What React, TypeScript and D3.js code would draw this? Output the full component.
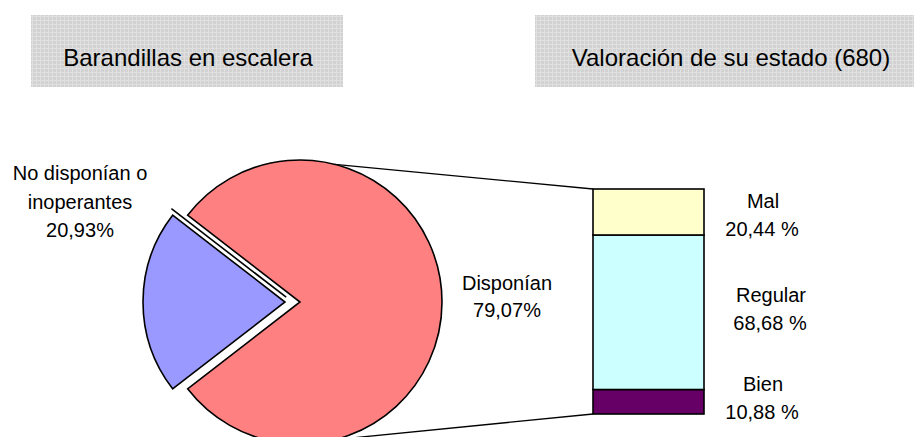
import React from "react";
import * as d3 from "d3";

// pie: share of stairs with handrails
const pieLabels = ["Disponían", "No disponían o inoperantes"];
const pieValues = [79.07, 20.93];
const pieColors = ["#FF8080", "#9999FF"];

// bar: condition of the handrails (680)
const barLabels = ["Bien", "Regular", "Mal"];
const barValues = [10.88, 68.68, 20.44];
const barColors = ["#660066", "#CCFFFF", "#FFFFCC"];

const titles = ["Barandillas en escalera", "Valoración de su estado (680)"];

const W = 914;
const H = 437;
const font = "'Liberation Sans', Arial, sans-serif";

const cx = 300;
const cy = 302;
const R = 142;
const explode = 15;
const connAngle = (14.2 * Math.PI) / 180;

const fmt = (v: number) => v.toFixed(2).replace(".", ",");

export default function App() {
  // small slice centred on the west side of the pie
  const blueShare = pieValues[1] / d3.sum(pieValues);
  const start = 2 * Math.PI * (0.75 - (1 - blueShare / 2));
  const pie = d3
    .pie<number>()
    .sort(null)
    .startAngle(start)
    .endAngle(start + 2 * Math.PI)(pieValues);
  const arc = d3.arc<d3.PieArcDatum<number>>().innerRadius(0).outerRadius(R);

  const bx = 593;
  const bw = 111;
  const y = d3.scaleLinear().domain([0, d3.sum(barValues)]).range([414, 189]);
  const stacked = barValues.map((v, i) => {
    const base = d3.sum(barValues.slice(0, i));
    return { v, i, y0: y(base), y1: y(base + v) };
  });
  const labelDy = [-11, -10, -4];

  // extra shadow line along the upper edge of the exploded slice
  const b = pie[1];
  const mid = (b.startAngle + b.endAngle) / 2;
  const ox = explode * Math.sin(mid);
  const oy = -explode * Math.cos(mid);
  const edgeA = b.endAngle;
  const ex = Math.sin(edgeA);
  const ey = -Math.cos(edgeA);
  const px = -ey * 4.5;
  const py = ex * 4.5;

  const topPt = [cx + R * Math.sin(connAngle), cy - R * Math.cos(connAngle)];
  const botPt = [cx + R * Math.sin(Math.PI - connAngle), cy - R * Math.cos(Math.PI - connAngle)];

  return (
    <svg
      width={W}
      height={H}
      style={{ position: "absolute", left: 0, top: 0, background: "#fff" }}
      fontFamily={font}
    >
      <defs>
        <pattern id="dots" width={4} height={4} patternUnits="userSpaceOnUse">
          <rect width={4} height={4} fill="#d2d2d2" />
          <rect width={4} height={1} fill="#e0e0e0" />
          <rect width={1} height={4} fill="#e0e0e0" />
        </pattern>
      </defs>

      <rect x={31} y={15} width={312} height={72} fill="url(#dots)" />
      <rect x={535} y={15} width={392} height={72} fill="url(#dots)" />
      <text x={188} y={66} fontSize={24} textAnchor="middle" fill="#000">
        {titles[0]}
      </text>
      <text x={731} y={66} fontSize={24} textAnchor="middle" fill="#000">
        {titles[1]}
      </text>

      {/* connectors */}
      <line x1={topPt[0]} y1={topPt[1]} x2={bx} y2={y(d3.sum(barValues))} stroke="#000" strokeWidth={1.3} />
      <line x1={botPt[0]} y1={botPt[1]} x2={bx} y2={y(0)} stroke="#000" strokeWidth={1.3} />

      {/* pie */}
      <g transform={`translate(${cx},${cy})`}>
        {pie.map((d, i) => {
          const m = (d.startAngle + d.endAngle) / 2;
          const off = i === 1 ? explode : 0;
          return (
            <path
              key={i}
              d={arc(d) || ""}
              transform={`translate(${off * Math.sin(m)},${-off * Math.cos(m)})`}
              fill={pieColors[i]}
              stroke="#000"
              strokeWidth={1.6}
              strokeLinejoin="miter"
            />
          );
        })}
        <line
          x1={ox + px + ex * 2}
          y1={oy + py + ey * 2}
          x2={ox + px + ex * (R + 5)}
          y2={oy + py + ey * (R + 5)}
          stroke="#000"
          strokeWidth={1.6}
        />
      </g>

      <g fontSize={20} fill="#000" textAnchor="middle">
        <text x={507} y={290}>{pieLabels[0]}</text>
        <text x={507} y={317}>{fmt(pieValues[0])}%</text>
        <text x={80} y={180}>No disponían o</text>
        <text x={80} y={209}>inoperantes</text>
        <text x={80} y={237}>{fmt(pieValues[1])}%</text>
      </g>

      {/* stacked bar */}
      {stacked.map((s) => (
        <rect
          key={s.i}
          x={bx}
          y={s.y1}
          width={bw}
          height={s.y0 - s.y1}
          fill={barColors[s.i]}
          stroke="#000"
          strokeWidth={1.6}
        />
      ))}
      <g fontSize={20} fill="#000" textAnchor="middle">
        {stacked.map((s) => {
          const m = (s.y0 + s.y1) / 2 + labelDy[s.i];
          const lx = s.i === 1 ? 771 : 763;
          return (
            <g key={s.i}>
              <text x={lx} y={m}>{barLabels[s.i]}</text>
              <text x={lx - 1} y={m + 28}>{fmt(s.v)} %</text>
            </g>
          );
        })}
      </g>
    </svg>
  );
}
